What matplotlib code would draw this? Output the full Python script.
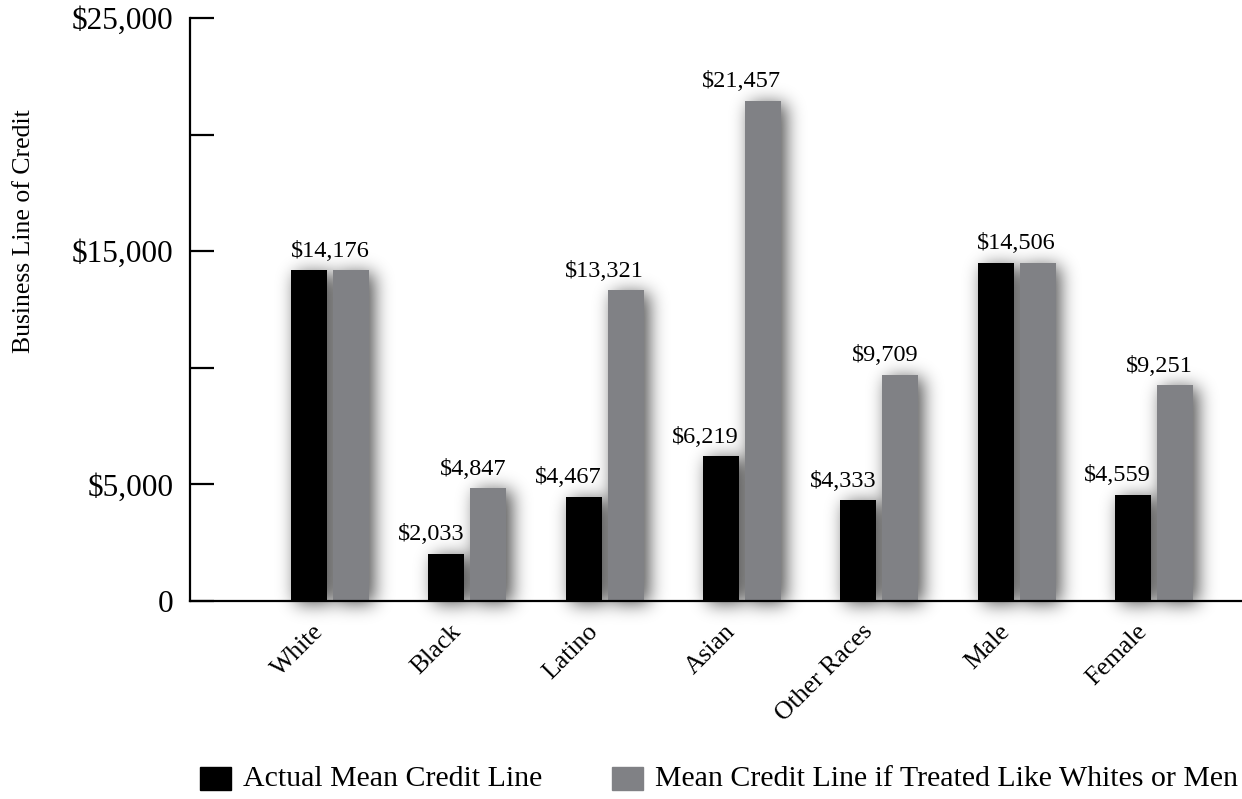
import numpy as np
import matplotlib
matplotlib.use("Agg")
import matplotlib.pyplot as plt
from matplotlib.patches import Rectangle
from matplotlib.transforms import ScaledTranslation

plt.rcParams['font.family'] = ['Liberation Serif', 'DejaVu Serif']

# mean business line of credit by group
groups = ['White', 'Black', 'Latino', 'Asian', 'Other Races', 'Male', 'Female']
actual = [14176, 2033, 4467, 6219, 4333, 14506, 4559]
treated_like = [14176, 4847, 13321, 21457, 9709, 14506, 9251]
# the reference groups (White, Male) get one shared label
reference_group = [True, False, False, False, False, True, False]

legend_labels = ['Actual Mean Credit Line',
                 'Mean Credit Line if Treated Like Whites or Men']
y_ticks = [0, 5000, 10000, 15000, 20000, 25000]
y_tick_labels = ['0', '$5,000', '', '$15,000', '', '$25,000']

BLACK = '#000000'
GREY = '#808185'


def blur_1d(arr, sigma, axis):
    r = int(3 * sigma)
    k = np.exp(-0.5 * (np.arange(-r, r + 1) / sigma) ** 2)
    k /= k.sum()
    return np.apply_along_axis(lambda v: np.convolve(v, k, mode='same'), axis, arr)


def draw_shadow(ax, lefts, widths, heights, xlim, ylim, nx, ny,
                shift=(5, -3), sigma=9, strength=0.7):
    # soft drop shadow rendered from the bar rectangles
    xs = np.linspace(xlim[0], xlim[1], nx)
    ys = np.linspace(ylim[0], ylim[1], ny)
    dx = (xlim[1] - xlim[0]) / nx
    dy = (ylim[1] - ylim[0]) / ny
    mask = np.zeros((ny, nx))
    for l, w, h in zip(lefts, widths, heights):
        l2 = l + shift[0] * dx
        x_in = (xs >= l2) & (xs <= l2 + w)
        y_in = (ys >= shift[1] * dy) & (ys <= h + shift[1] * dy)
        mask[np.ix_(y_in, x_in)] = 1.0
    mask = blur_1d(mask, sigma, 0)
    mask = blur_1d(mask, sigma, 1)
    rgba = np.zeros((ny, nx, 4))
    rgba[..., 3] = np.clip(mask * strength, 0, 1)
    ax.imshow(rgba, extent=(xlim[0], xlim[1], ylim[0], ylim[1]),
              origin='lower', aspect='auto', zorder=1, clip_on=False,
              interpolation='bilinear')


fig = plt.figure(figsize=(12.42, 7.99), dpi=100)
ax = fig.add_axes([190 / 1242, 198 / 799, 1 - 190 / 1242, 583 / 799])

x = np.arange(len(groups))
w = 0.262
off = 0.153
xlim = (-1.02, 6.64)
ylim = (0, 25000)

lefts = list(x - off - w / 2) + list(x + off - w / 2)
heights = actual + treated_like
draw_shadow(ax, lefts, [w] * len(lefts), heights,
            xlim, (-1500, 25000), 1052, 620)

ax.bar(x - off, actual, width=w, color=BLACK, zorder=3)
ax.bar(x + off, treated_like, width=w, color=GREY, zorder=3)

for i in range(len(groups)):
    if reference_group[i]:
        ax.annotate(f'${actual[i]:,}', (x[i], max(actual[i], treated_like[i])),
                    xytext=(0, 6), textcoords='offset points',
                    ha='center', va='bottom', fontsize=17.5, zorder=4)
    else:
        ax.annotate(f'${actual[i]:,}', (x[i] - off + w / 2, actual[i]),
                    xytext=(0, 6), textcoords='offset points',
                    ha='right', va='bottom', fontsize=17.5, zorder=4)
        ax.annotate(f'${treated_like[i]:,}', (x[i] + off + w / 2, treated_like[i]),
                    xytext=(0, 6), textcoords='offset points',
                    ha='right', va='bottom', fontsize=17.5, zorder=4)

ax.set_xlim(*xlim)
ax.set_ylim(*ylim)
ax.patch.set_alpha(0)
for side in ['top', 'right']:
    ax.spines[side].set_visible(False)
for side in ['left', 'bottom']:
    ax.spines[side].set_linewidth(1.6)
    ax.spines[side].set_zorder(5)

ax.set_yticks(y_ticks)
ax.set_yticklabels(y_tick_labels, fontsize=22.5)
ax.tick_params(axis='y', direction='in', length=17, width=1.6, pad=12)

ax.set_xticks(x)
ax.set_xticklabels(groups, fontsize=18.5, rotation=45, ha='right',
                   rotation_mode='anchor')
ax.tick_params(axis='x', length=0, pad=14)
shift_left = ScaledTranslation(-18 / 100, 0, fig.dpi_scale_trans)
for lbl in ax.get_xticklabels():
    lbl.set_transform(lbl.get_transform() + shift_left)

fig.text(24 / 1242, 1 - 231 / 799, 'Business Line of Credit', rotation=90,
         ha='center', va='center', fontsize=18.5)

# legend drawn as plain squares and text under the plot
for color, label, x0 in zip([BLACK, GREY], legend_labels, [200, 612]):
    fig.patches.append(Rectangle((x0 / 1242, 1 - 790 / 799), 31 / 1242, 23 / 799,
                                 transform=fig.transFigure, color=color))
    fig.text((x0 + 43) / 1242, 1 - 779 / 799, label, ha='left', va='center',
             fontsize=21.5)

fig.savefig('out.png', dpi=100)
